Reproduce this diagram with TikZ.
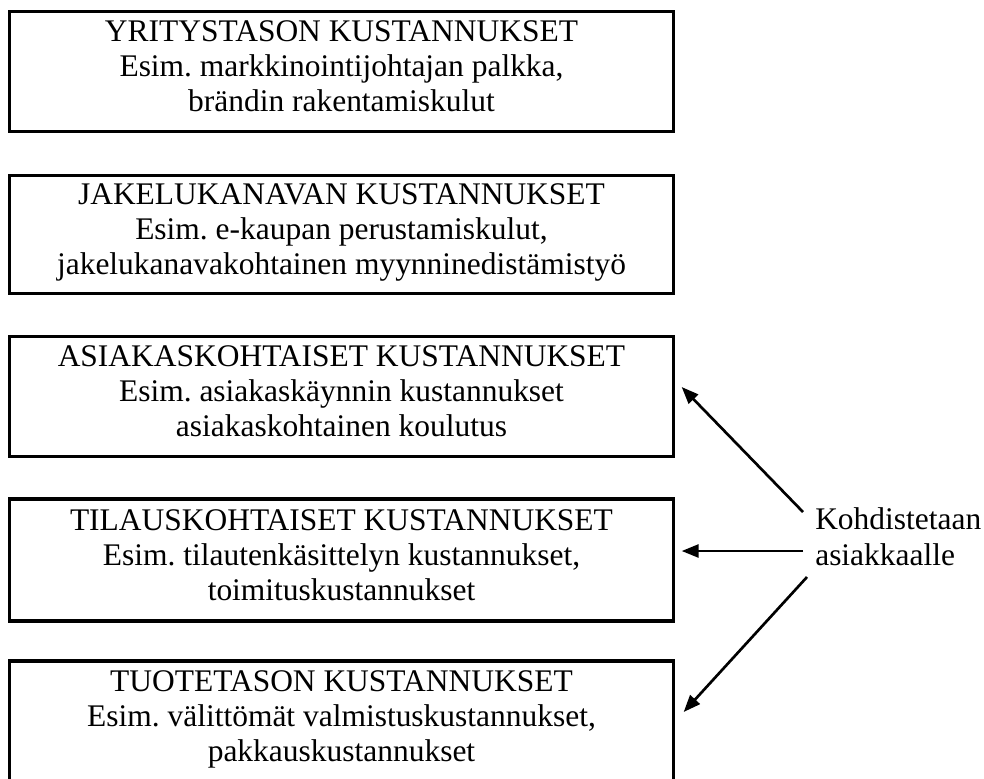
\documentclass[tikz,border=0pt]{standalone}
\usepackage{fontspec}
\setmainfont{Liberation Serif}
\usetikzlibrary{arrows.meta,calc}
% struts that fix the space above the first and below the last line of a box
\newcommand\boxtopstrut{\rule{0pt}{18pt}}
\newcommand\boxbotstrut{\rule[-10.5pt]{0pt}{0pt}}
\frenchspacing
\begin{document}
\begin{tikzpicture}[x=0.75pt,y=-0.75pt,
  costbox/.style={draw,line width=2.5pt,rectangle,inner sep=0pt,
    minimum width=498pt,align=center,
    font=\fontsize{23.6}{26.25}\selectfont},
  sidetext/.style={inner sep=0pt,align=left,
    font=\fontsize{23.6}{27}\selectfont},
  pointer/.style={line width=2pt,-{Triangle[length=12.75pt,width=9.75pt]}}]
\useasboundingbox (0,0) rectangle (984,778);

% cost levels
\node[costbox,minimum height=90pt] (b1) at (341.5,71.5)
  {\boxtopstrut YRITYSTASON KUSTANNUKSET\\Esim. markkinointijohtajan palkka,\\brändin rakentamiskulut\boxbotstrut};
\node[costbox,minimum height=88.5pt] (b2) at (341.5,234.5)
  {\boxtopstrut JAKELUKANAVAN KUSTANNUKSET\\Esim. e-kaupan perustamiskulut,\\jakelukanavakohtainen myynninedistämistyö\boxbotstrut};
\node[costbox,minimum height=90pt] (b3) at (341.5,396.5)
  {\boxtopstrut ASIAKASKOHTAISET KUSTANNUKSET\\Esim. asiakaskäynnin kustannukset\\asiakaskohtainen koulutus\boxbotstrut};
\node[costbox,minimum height=91.5pt] (b4) at (341.5,560)
  {\boxtopstrut TILAUSKOHTAISET KUSTANNUKSET\\Esim. tilautenkäsittelyn kustannukset,\\toimituskustannukset\boxbotstrut};
\node[costbox,minimum height=90pt] (b5) at (341.5,721)
  {\boxtopstrut TUOTETASON KUSTANNUKSET\\Esim. välittömät valmistuskustannukset,\\pakkauskustannukset\boxbotstrut};

% allocation note
\node[sidetext,anchor=west] (k) at (815,537) {Kohdistetaan\\asiakkaalle};

\coordinate (t1) at ($(k.west)+(-12,-25)$);
\coordinate (t2) at ($(k.west)+(-12,14)$);
\coordinate (t3) at ($(k.west)+(-8,40)$);
\coordinate (h1) at ($(b3.east)+(6.5,-9.5)$);
\coordinate (h2) at ($(b4.east)+(6.5,-9)$);
\coordinate (h3) at ($(b5.east)+(8.5,-9)$);

\draw[pointer] (t1) -- (h1);
\draw[pointer] (t2) -- (h2);
\draw[pointer] (t3) -- (h3);
\end{tikzpicture}
\end{document}
